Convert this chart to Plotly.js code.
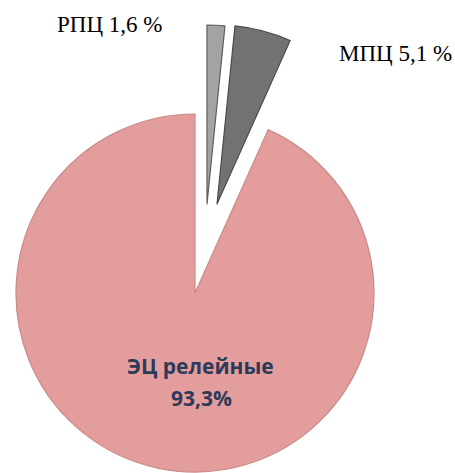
<!DOCTYPE html>
<html>
<head>
<meta charset="utf-8">
<script src="https://cdn.plot.ly/plotly-3.0.1.min.js"></script>
<style>html,body{margin:0;padding:0;background:#fff;}#chart{width:455px;height:473px;}</style>
</head>
<body>
<div id="chart"></div>
<script>
// ---- data ----
var labels = ['РПЦ', 'МПЦ', 'ЭЦ релейные'];
var values = [1.6, 5.1, 93.3];
var colors = ['#a3a3a3', '#727272', '#e39d9c'];
var lineColors = ['#5e5e5e', '#4a4a4a', '#c98a89'];

// ---- layout geometry (pixels) ----
var W = 455, H = 473, R = 179;
// centre of each drawn piece: pulled-out slices, then main pie
var centres = [[207, 204], [217, 204], [195, 293]];

function domainFor(c) {
  return {
    x: [(c[0] - R) / W, (c[0] + R) / W],
    y: [(H - (c[1] + R)) / H, (H - (c[1] - R)) / H]
  };
}

function fmt(v) { return String(v).replace('.', ','); }

var traces = [];
// draw main (non-pulled) slice first, then pulled slices on top
var order = [2, 0, 1];
order.forEach(function (k) {
  traces.push({
    type: 'pie',
    labels: labels,
    values: values,
    sort: false,
    direction: 'clockwise',
    rotation: 0,
    textinfo: 'none',
    hoverinfo: 'label+percent',
    domain: domainFor(centres[k]),
    marker: {
      colors: colors.map(function (c, i) { return i === k ? c : 'rgba(0,0,0,0)'; }),
      line: {
        color: lineColors.map(function (c, i) { return i === k ? c : 'rgba(0,0,0,0)'; }),
        width: values.map(function (v, i) { return i === k ? 1.2 : 0; })
      }
    },
    showlegend: false
  });
});

var serif = {family: 'Liberation Serif, Times New Roman, serif', size: 23, color: '#000'};
var sansB = {family: 'Open Sans, sans-serif', size: 21, color: '#2c3a5a', weight: 'bold'};

var annotations = [
  {x: 109 / W, y: 1 - 24 / H, text: labels[0] + ' ' + fmt(values[0]) + ' %', font: serif},
  {x: 395 / W, y: 1 - 53 / H, text: labels[1] + ' ' + fmt(values[1]) + ' %', font: serif},
  {x: 200 / W, y: 1 - 366 / H, text: '<b>' + labels[2] + '</b>', font: sansB},
  {x: 201 / W, y: 1 - 398 / H, text: '<b>' + fmt(values[2]) + '%</b>', font: sansB}
].map(function (a) {
  a.xref = 'paper'; a.yref = 'paper'; a.showarrow = false;
  a.xanchor = 'center'; a.yanchor = 'middle';
  return a;
});

var layout = {
  width: W, height: H,
  margin: {l: 0, r: 0, t: 0, b: 0, pad: 0},
  paper_bgcolor: '#ffffff',
  showlegend: false,
  annotations: annotations
};

Plotly.newPlot('chart', traces, layout, {displayModeBar: false, staticPlot: true});
</script>
</body>
</html>
